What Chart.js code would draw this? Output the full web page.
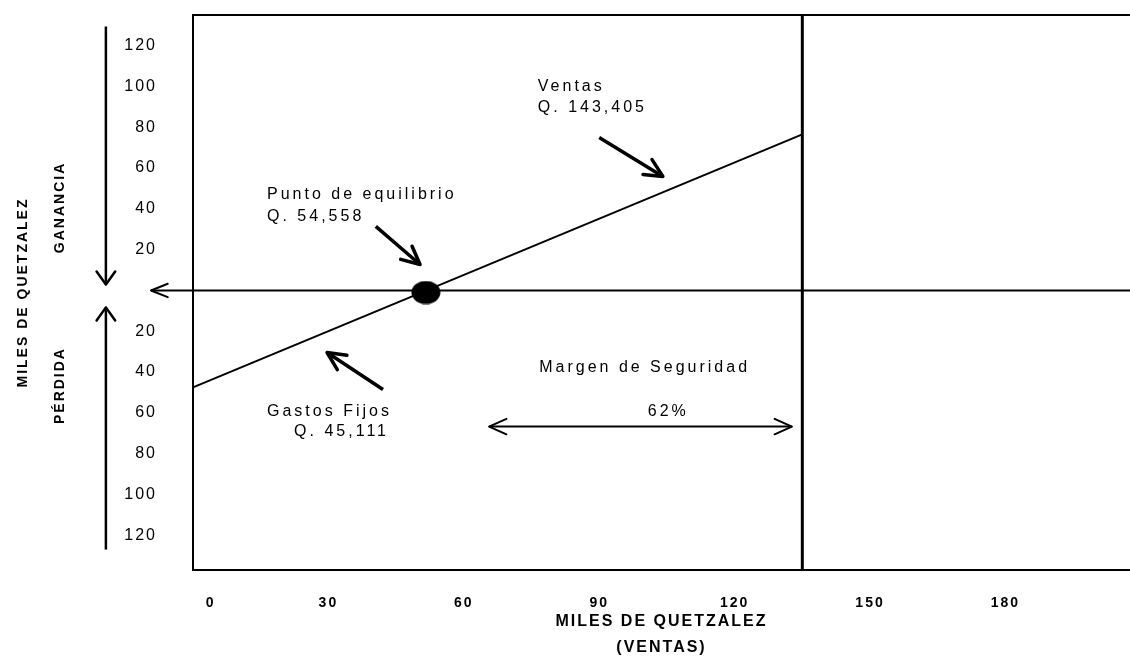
<!DOCTYPE html>
<html>
<head>
<meta charset="utf-8">
<script src="https://cdn.jsdelivr.net/npm/chart.js@4.4.0/dist/chart.umd.min.js"></script>
<style>
html, body { margin: 0; padding: 0; background: #fff; }
</style>
</head>
<body>
<canvas id="chart" width="1130" height="661"></canvas>
<script>
// miles de quetzales
const ventasX = [0, 135];
const ventasY = [-47.5, 76.5];
const equilibrioX = [51.6];
const equilibrioY = [-1];
const margenX = [135, 135];
const margenY = [-137, 135];
const ceroX = [-9.3, 208];
const ceroY = [0, 0];

const xTicks = [0, 30, 60, 90, 120, 150, 180];
const yTicks = [-120, -100, -80, -60, -40, -20, 20, 40, 60, 80, 100, 120];

// flechas de las notas
const flechaVentasX = [90, 104.1];
const flechaVentasY = [75, 55.9];
const flechaEquilibrioX = [40.5, 50.3];
const flechaEquilibrioY = [31.4, 12.7];
const flechaGastosX = [42.1, 29.7];
const flechaGastosY = [-48.5, -30.4];
const flechaMargenX = [65.6, 132.7];
const flechaMargenY = [-66.7, -66.7];
const flechaGananciaX = [-19.3, -19.3];
const flechaGananciaY = [129.4, 2.9];
const flechaPerdidaX = [-19.3, -19.3];
const flechaPerdidaY = [-127, -8.3];

const notaTextos = ['Ventas', 'Q. 143,405', 'Punto de equilibrio', 'Q. 54,558',
                    'Gastos Fijos', 'Q. 45,111', 'Margen de Seguridad', '62%'];
const notaX = [76.4, 76.4, 16.4, 16.4, 16.4, 22.4, 76.7, 105.3];
const notaY = [100, 89.7, 47, 36.3, -59.3, -69.1, -37.7, -59.3];

const ladoTextos = ['GANANCIA', 'PÉRDIDA'];
const ladoX = [-29.5, -29.5];
const ladoY = [40.7, -46.6];

function pts(xs, ys) {
    return xs.map((x, i) => ({x: x, y: ys[i]}));
}

// ellipse for the break-even dot
let dot = document.createElement('canvas');
dot.width = 30; dot.height = 24;
let dctx = dot.getContext('2d');
dctx.fillStyle = '#000';
dctx.beginPath();
dctx.ellipse(15, 12, 14.5, 11.5, 0, 0, Math.PI * 2);
dctx.fill();

function linea(xs, ys, w, arrow, headLen, headAng) {
    return {
        data: pts(xs, ys),
        showLine: true,
        borderColor: '#000',
        borderWidth: w,
        pointRadius: 0,
        fill: false,
        clip: false,
        arrow: arrow,
        headLen: headLen,
        headAng: headAng
    };
}

function sinPadding(s) {
    s.paddingTop = 0; s.paddingBottom = 0;
    s.paddingLeft = 0; s.paddingRight = 0;
}

const arrowPlugin = {
    id: 'arrows',
    afterDatasetsDraw(chart) {
        let ctx = chart.ctx;
        chart.data.datasets.forEach((ds, i) => {
            if (!ds.arrow) return;
            let p = chart.getDatasetMeta(i).data;
            let a = p[0], b = p[p.length - 1];
            ctx.save();
            ctx.strokeStyle = '#000';
            ctx.lineWidth = ds.borderWidth;
            ctx.lineCap = 'round';
            ctx.lineJoin = 'round';
            let head = (tip, from) => {
                let ang = Math.atan2(tip.y - from.y, tip.x - from.x);
                let L = ds.headLen, t = ds.headAng;
                ctx.beginPath();
                ctx.moveTo(tip.x - L * Math.cos(ang - t), tip.y - L * Math.sin(ang - t));
                ctx.lineTo(tip.x, tip.y);
                ctx.lineTo(tip.x - L * Math.cos(ang + t), tip.y - L * Math.sin(ang + t));
                ctx.stroke();
            };
            if (ds.arrow == 'end' || ds.arrow == 'both') head(b, a);
            if (ds.arrow == 'start' || ds.arrow == 'both') head(a, b);
            ctx.restore();
        });
    }
};

const textPlugin = {
    id: 'notas',
    beforeDraw(chart) {
        chart.ctx.letterSpacing = '2px';
    },
    afterDatasetsDraw(chart) {
        let ctx = chart.ctx;
        let x = chart.scales.x, y = chart.scales.y;
        ctx.save();
        ctx.fillStyle = '#000';
        ctx.textBaseline = 'middle';
        ctx.font = '16px "Liberation Sans", Arial, sans-serif';
        ctx.letterSpacing = '3px';
        notaTextos.forEach((t, i) => {
            ctx.textAlign = t == '62%' ? 'center' : 'left';
            ctx.fillText(t, x.getPixelForValue(notaX[i]), y.getPixelForValue(notaY[i]));
        });
        ctx.font = 'bold 14px "Liberation Sans", Arial, sans-serif';
        ctx.letterSpacing = '2px';
        ctx.textAlign = 'center';
        ladoTextos.forEach((t, i) => {
            ctx.save();
            ctx.translate(x.getPixelForValue(ladoX[i]), y.getPixelForValue(ladoY[i]));
            ctx.rotate(-Math.PI / 2);
            ctx.fillText(t, 0, 0);
            ctx.restore();
        });
        // top edge of the frame
        let a = chart.chartArea;
        ctx.strokeStyle = '#000';
        ctx.lineWidth = 2;
        ctx.beginPath();
        ctx.moveTo(a.left - 1, a.top);
        ctx.lineTo(a.right, a.top);
        ctx.stroke();
        ctx.restore();
    }
};

new Chart(document.getElementById('chart'), {
    type: 'scatter',
    data: {
        datasets: [
            linea(ventasX, ventasY, 2),
            linea(margenX, margenY, 3),
            linea(ceroX, ceroY, 2, 'start', 18, 0.38),
            {
                data: pts(equilibrioX, equilibrioY),
                pointStyle: dot,
                pointRadius: 12,
                clip: false
            },
            linea(flechaVentasX, flechaVentasY, 3.5, 'end', 20, 0.45),
            linea(flechaEquilibrioX, flechaEquilibrioY, 3.5, 'end', 20, 0.45),
            linea(flechaGastosX, flechaGastosY, 3.5, 'end', 20, 0.45),
            linea(flechaMargenX, flechaMargenY, 2, 'both', 19, 0.42),
            linea(flechaGananciaX, flechaGananciaY, 2.5, 'end', 16, 0.62),
            linea(flechaPerdidaX, flechaPerdidaY, 2.5, 'end', 16, 0.62)
        ]
    },
    options: {
        responsive: false,
        animation: false,
        devicePixelRatio: 1,
        layout: {autoPadding: false, padding: {top: 15, left: 0, right: 0, bottom: 0}},
        plugins: {
            legend: {display: false},
            tooltip: {enabled: false}
        },
        scales: {
            x: {
                type: 'linear',
                min: 0,
                max: 207.6,
                afterFit: s => { s.height = 91; sinPadding(s); },
                afterBuildTicks: s => { s.ticks = xTicks.map(v => ({value: v})); },
                grid: {display: false, drawTicks: false},
                border: {display: true, color: '#000', width: 2},
                ticks: {
                    color: '#000',
                    padding: 25,
                    maxRotation: 0,
                    font: {family: '"Liberation Sans", Arial, sans-serif', size: 14, weight: 'bold'},
                    callback: v => v == 0 ? '      0' : String(v)
                },
                title: {
                    display: true,
                    text: ['MILES DE QUETZALEZ', '(VENTAS)'],
                    color: '#000',
                    padding: {top: 0, bottom: 0},
                    font: {family: '"Liberation Sans", Arial, sans-serif', size: 16, weight: 'bold', lineHeight: 1.625}
                }
            },
            y: {
                type: 'linear',
                min: -137,
                max: 135,
                afterFit: s => { s.width = 193; sinPadding(s); },
                afterBuildTicks: s => { s.ticks = yTicks.map(v => ({value: v})); },
                grid: {display: false, drawTicks: false},
                border: {display: true, color: '#000', width: 2},
                ticks: {
                    color: '#000',
                    padding: 36,
                    font: {family: '"Liberation Sans", Arial, sans-serif', size: 16},
                    callback: v => String(Math.abs(v))
                },
                title: {
                    display: true,
                    text: 'MILES DE QUETZALEZ',
                    color: '#000',
                    padding: {top: 15, bottom: 0},
                    font: {family: '"Liberation Sans", Arial, sans-serif', size: 14, weight: 'bold'}
                }
            }
        }
    },
    plugins: [arrowPlugin, textPlugin]
});
</script>
</body>
</html>
